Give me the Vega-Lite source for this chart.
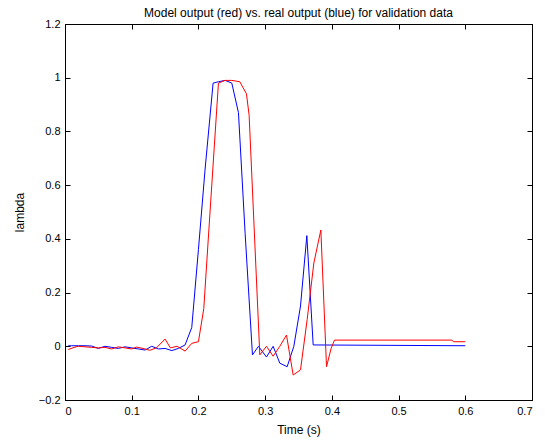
{
  "$schema": "https://vega.github.io/schema/vega-lite/v6.json",
  "width": 467,
  "height": 376,
  "autosize": "none",
  "padding": {"left": 65, "top": 24, "right": 25, "bottom": 41},
  "background": "white",
  "title": {"text": "Model output (red) vs. real output (blue) for validation data", "font": "Liberation Sans", "fontSize": 12, "fontWeight": "normal", "color": "black", "offset": -2},
  "config": {
    "view": {"stroke": "black", "strokeWidth": 1},
    "axis": {"labelFont": "Liberation Sans", "titleFont": "Liberation Sans", "labelFontSize": 11, "titleFontSize": 12, "titleFontWeight": "normal", "labelColor": "black", "titleColor": "black", "domainColor": "black", "tickColor": "black", "grid": false, "tickSize": -5, "domainWidth": 1, "tickWidth": 1}
  },
  "datasets": {
    "real": [
      {"t": 0.005, "v": 0.002}, {"t": 0.01, "v": 0.002}, {"t": 0.02, "v": 0.002}, {"t": 0.03, "v": 0.002}, {"t": 0.04, "v": 0.001},
      {"t": 0.05, "v": -0.008}, {"t": 0.06, "v": 0.0}, {"t": 0.07, "v": -0.004}, {"t": 0.08, "v": -0.008}, {"t": 0.09, "v": -0.002},
      {"t": 0.1, "v": -0.006}, {"t": 0.11, "v": -0.01}, {"t": 0.12, "v": -0.014}, {"t": 0.13, "v": 0.0}, {"t": 0.14, "v": -0.01},
      {"t": 0.15, "v": -0.008}, {"t": 0.16, "v": -0.016}, {"t": 0.17, "v": -0.008}, {"t": 0.18, "v": 0.005}, {"t": 0.19, "v": 0.07},
      {"t": 0.2, "v": 0.36}, {"t": 0.21, "v": 0.66}, {"t": 0.222, "v": 0.98}, {"t": 0.23, "v": 0.985}, {"t": 0.24, "v": 0.99},
      {"t": 0.25, "v": 0.98}, {"t": 0.26, "v": 0.87}, {"t": 0.27, "v": 0.42}, {"t": 0.281, "v": -0.032}, {"t": 0.29, "v": 0.0},
      {"t": 0.302, "v": -0.04}, {"t": 0.312, "v": 0.0}, {"t": 0.322, "v": -0.063}, {"t": 0.333, "v": -0.076}, {"t": 0.343, "v": 0.0},
      {"t": 0.353, "v": 0.15}, {"t": 0.3625, "v": 0.412}, {"t": 0.372, "v": 0.005}, {"t": 0.6, "v": 0.002}
    ],
    "model": [
      {"t": 0.005, "v": -0.012}, {"t": 0.015, "v": -0.003}, {"t": 0.02, "v": 0.0}, {"t": 0.03, "v": -0.002}, {"t": 0.04, "v": -0.004},
      {"t": 0.05, "v": -0.006}, {"t": 0.06, "v": -0.004}, {"t": 0.07, "v": -0.01}, {"t": 0.08, "v": -0.002}, {"t": 0.09, "v": -0.006},
      {"t": 0.1, "v": -0.01}, {"t": 0.107, "v": -0.003}, {"t": 0.117, "v": -0.008}, {"t": 0.127, "v": -0.015}, {"t": 0.137, "v": -0.006},
      {"t": 0.15, "v": 0.027}, {"t": 0.158, "v": -0.006}, {"t": 0.168, "v": 0.0}, {"t": 0.18, "v": -0.018}, {"t": 0.19, "v": 0.011},
      {"t": 0.2, "v": 0.017}, {"t": 0.208, "v": 0.14}, {"t": 0.22, "v": 0.6}, {"t": 0.23, "v": 0.98}, {"t": 0.24, "v": 0.99},
      {"t": 0.25, "v": 0.99}, {"t": 0.262, "v": 0.985}, {"t": 0.272, "v": 0.94}, {"t": 0.276, "v": 0.86}, {"t": 0.292, "v": -0.032},
      {"t": 0.302, "v": 0.0}, {"t": 0.312, "v": -0.037}, {"t": 0.322, "v": 0.0}, {"t": 0.332, "v": 0.042}, {"t": 0.342, "v": -0.107},
      {"t": 0.353, "v": -0.088}, {"t": 0.363, "v": 0.1}, {"t": 0.373, "v": 0.31}, {"t": 0.3835, "v": 0.433}, {"t": 0.392, "v": -0.076},
      {"t": 0.399, "v": -0.007}, {"t": 0.404, "v": 0.023}, {"t": 0.58, "v": 0.023}, {"t": 0.582, "v": 0.017}, {"t": 0.6, "v": 0.017}
    ]
  },
  "resolve": {"axis": {"x": "independent", "y": "independent"}},
  "layer": [
    {
      "data": {"name": "real"},
      "mark": {"type": "line", "color": "#0000ff", "strokeWidth": 1},
      "encoding": {
        "x": {"field": "t", "type": "quantitative", "scale": {"domain": [0, 0.7], "nice": false, "zero": false},
              "axis": {"title": "Time (s)", "values": [0, 0.1, 0.2, 0.3, 0.4, 0.5, 0.6, 0.7], "format": "~g", "labelPadding": 10, "titlePadding": 8}},
        "y": {"field": "v", "type": "quantitative", "scale": {"domain": [-0.2, 1.2], "nice": false, "zero": false},
              "axis": {"title": "lambda", "values": [-0.2, 0, 0.2, 0.4, 0.6, 0.8, 1, 1.2], "format": "~g", "labelPadding": 10, "titlePadding": 12}}
      }
    },
    {
      "data": {"name": "model"},
      "mark": {"type": "line", "color": "#ff0000", "strokeWidth": 1},
      "encoding": {
        "x": {"field": "t", "type": "quantitative", "scale": {"domain": [0, 0.7], "nice": false, "zero": false},
              "axis": {"orient": "top", "title": null, "labels": false, "values": [0, 0.1, 0.2, 0.3, 0.4, 0.5, 0.6, 0.7]}},
        "y": {"field": "v", "type": "quantitative", "scale": {"domain": [-0.2, 1.2], "nice": false, "zero": false},
              "axis": {"orient": "right", "title": null, "labels": false, "values": [-0.2, 0, 0.2, 0.4, 0.6, 0.8, 1, 1.2]}}
      }
    }
  ]
}
